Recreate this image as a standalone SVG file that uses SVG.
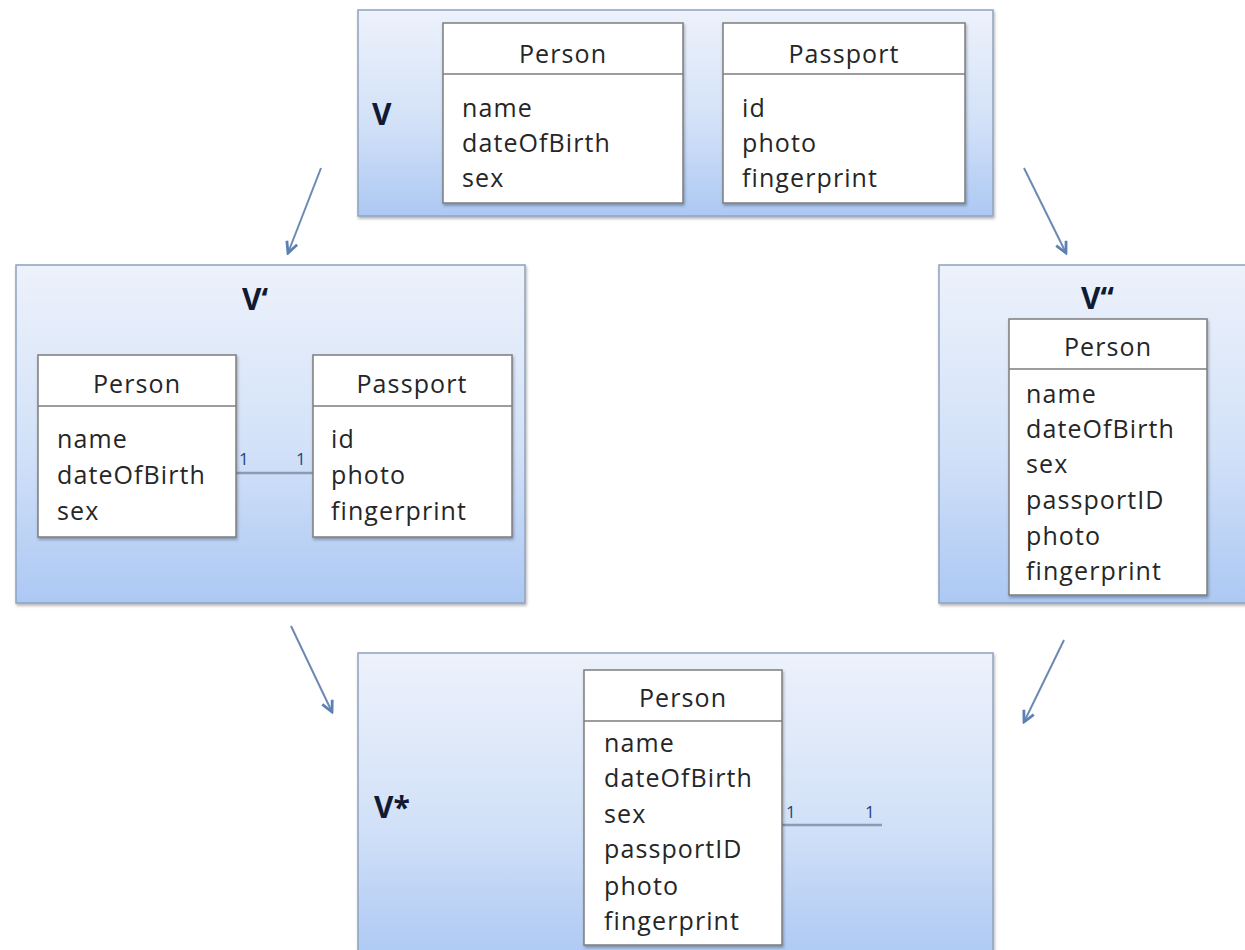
<svg xmlns="http://www.w3.org/2000/svg" width="1245" height="950" viewBox="0 0 1245 950">
  <defs>
    <linearGradient id="panelFill" x1="0" y1="0" x2="0" y2="1">
      <stop offset="0" stop-color="#edf2fb"/>
      <stop offset="0.55" stop-color="#d2e1f8"/>
      <stop offset="1" stop-color="#acc8f3"/>
    </linearGradient>
    <filter id="shadow" x="-5%" y="-5%" width="110%" height="110%">
      <feDropShadow dx="1" dy="2" stdDeviation="1.5" flood-color="#000" flood-opacity="0.3"/>
    </filter>
    <marker id="arrowHead" viewBox="0 0 14 14" refX="12" refY="7" markerWidth="14" markerHeight="14" markerUnits="userSpaceOnUse" orient="auto">
      <path d="M1,1.5 L12,7 L1,12.5" fill="none" stroke="#5a80b4" stroke-width="2.8" stroke-linejoin="miter"/>
    </marker>
    <style>
      .panel { fill: url(#panelFill); stroke: #8fa3be; stroke-width: 1.5; filter: url(#shadow); }
      .cls { fill: #ffffff; stroke: #7d7d7d; stroke-width: 1.5; filter: url(#shadow); }
      .div { stroke: #7d7d7d; stroke-width: 1.5; }
      .title { font-family: "Open Sans", "Noto Sans", sans-serif; font-size: 25px; letter-spacing: 1.1px; fill: #262626; text-anchor: middle; }
      .attr { font-family: "Open Sans", "Noto Sans", sans-serif; font-size: 25px; letter-spacing: 1.1px; fill: #262626; }
      .vlabel { font-family: "Open Sans", "Noto Sans", sans-serif; font-size: 30px; font-weight: bold; fill: #101a33; }
      .mult { font-family: "Open Sans", "Noto Sans", sans-serif; font-size: 17px; fill: #25457a; }
      .assoc { stroke: #8a9bb3; stroke-width: 2.5; fill: none; }
      .flow { stroke: #6d89b3; stroke-width: 2; fill: none; marker-end: url(#arrowHead); }
    </style>
  </defs>

  <!-- Connectors between the model versions -->
  <g id="connectors">
    <line class="flow" x1="321" y1="168" x2="288" y2="253"/>
    <line class="flow" x1="1024" y1="168" x2="1066" y2="253"/>
    <line class="flow" x1="291" y1="626" x2="332" y2="712"/>
    <line class="flow" x1="1064" y1="640" x2="1024" y2="722"/>
  </g>

  <!-- V: Person and Passport, no association -->
  <g id="panel-v">
    <rect class="panel" x="358" y="10" width="635" height="206"/>
    <text class="vlabel" x="372" y="125">V</text>
    <g id="v-person">
      <rect class="cls" x="443" y="23" width="240" height="180"/>
      <line class="div" x1="443" y1="74" x2="683" y2="74"/>
      <text class="title" x="563" y="63">Person</text>
      <text class="attr" x="462" y="117">name</text>
      <text class="attr" x="462" y="152">dateOfBirth</text>
      <text class="attr" x="462" y="187">sex</text>
    </g>
    <g id="v-passport">
      <rect class="cls" x="723" y="23" width="242" height="180"/>
      <line class="div" x1="723" y1="74" x2="965" y2="74"/>
      <text class="title" x="844" y="63">Passport</text>
      <text class="attr" x="742" y="117">id</text>
      <text class="attr" x="742" y="152">photo</text>
      <text class="attr" x="742" y="187">fingerprint</text>
    </g>
  </g>

  <!-- V': Person 1–1 Passport -->
  <g id="panel-v1">
    <rect class="panel" x="16" y="265" width="509" height="338"/>
    <text class="vlabel" x="242" y="310">V‘</text>
    <line class="assoc" x1="236" y1="473" x2="313" y2="473"/>
    <text class="mult" x="239" y="465">1</text>
    <text class="mult" x="296" y="465">1</text>
    <g id="v1-person">
      <rect class="cls" x="38" y="355" width="198" height="182"/>
      <line class="div" x1="38" y1="406" x2="236" y2="406"/>
      <text class="title" x="137" y="393">Person</text>
      <text class="attr" x="57" y="448">name</text>
      <text class="attr" x="57" y="484">dateOfBirth</text>
      <text class="attr" x="57" y="520">sex</text>
    </g>
    <g id="v1-passport">
      <rect class="cls" x="313" y="355" width="199" height="182"/>
      <line class="div" x1="313" y1="406" x2="512" y2="406"/>
      <text class="title" x="412" y="393">Passport</text>
      <text class="attr" x="331" y="448">id</text>
      <text class="attr" x="331" y="484">photo</text>
      <text class="attr" x="331" y="520">fingerprint</text>
    </g>
  </g>

  <!-- V'': Passport merged into Person -->
  <g id="panel-v2">
    <rect class="panel" x="939" y="265" width="311" height="338"/>
    <text class="vlabel" x="1081" y="309">V“</text>
    <g id="v2-person">
      <rect class="cls" x="1009" y="319" width="198" height="276"/>
      <line class="div" x1="1009" y1="369" x2="1207" y2="369"/>
      <text class="title" x="1108" y="356">Person</text>
      <text class="attr" x="1026" y="403">name</text>
      <text class="attr" x="1026" y="438">dateOfBirth</text>
      <text class="attr" x="1026" y="473">sex</text>
      <text class="attr" x="1026" y="509">passportID</text>
      <text class="attr" x="1026" y="545">photo</text>
      <text class="attr" x="1026" y="580">fingerprint</text>
    </g>
  </g>

  <!-- V*: merged Person with dangling association -->
  <g id="panel-vstar">
    <rect class="panel" x="358" y="653" width="635" height="310"/>
    <text class="vlabel" x="374" y="818">V*</text>
    <line class="assoc" x1="782" y1="825" x2="882" y2="825"/>
    <text class="mult" x="786" y="818">1</text>
    <text class="mult" x="865" y="818">1</text>
    <g id="vstar-person">
      <rect class="cls" x="584" y="670" width="198" height="275"/>
      <line class="div" x1="584" y1="721" x2="782" y2="721"/>
      <text class="title" x="683" y="707">Person</text>
      <text class="attr" x="604" y="752">name</text>
      <text class="attr" x="604" y="787">dateOfBirth</text>
      <text class="attr" x="604" y="823">sex</text>
      <text class="attr" x="604" y="858">passportID</text>
      <text class="attr" x="604" y="895">photo</text>
      <text class="attr" x="604" y="930">fingerprint</text>
    </g>
  </g>
</svg>
